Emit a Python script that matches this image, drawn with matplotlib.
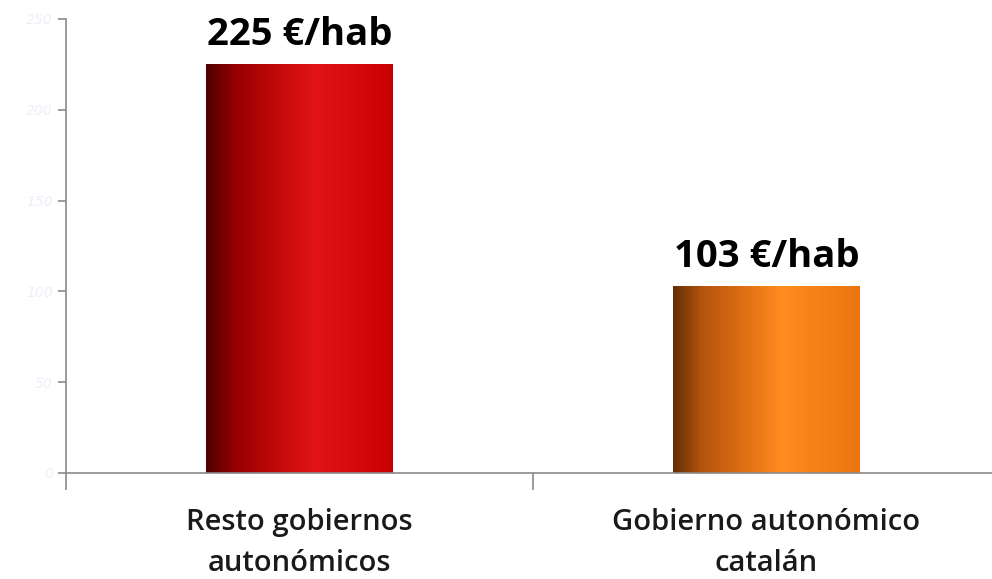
import numpy as np
import matplotlib.pyplot as plt
from matplotlib.colors import LinearSegmentedColormap

# datos
categorias = ['Resto gobiernos\nautonómicos', 'Gobierno autonómico\ncatalán']
valores = [225, 103]
etiquetas = ['225 €/hab', '103 €/hab']
yticks = [0, 50, 100, 150, 200, 250]

# degradados horizontales de cada barra
grad_rojo = LinearSegmentedColormap.from_list('rojo', [
    (0.0, (0.30, 0.0, 0.0)), (0.15, (0.58, 0.0, 0.0)),
    (0.35, (0.74, 0.03, 0.03)), (0.58, (0.88, 0.08, 0.08)),
    (1.0, (0.79, 0.0, 0.0))])
grad_naranja = LinearSegmentedColormap.from_list('naranja', [
    (0.0, (0.38, 0.18, 0.02)), (0.15, (0.70, 0.33, 0.05)),
    (0.35, (0.85, 0.42, 0.07)), (0.58, (1.0, 0.55, 0.12)),
    (1.0, (0.92, 0.46, 0.06))])
mapas = [grad_rojo, grad_naranja]

fig = plt.figure(figsize=(9.92, 5.79), dpi=100)
ax = fig.add_axes([66 / 992, 106 / 579, 934 / 992, 454 / 579])

x = np.arange(len(categorias))
barras = ax.bar(x, valores, width=0.4, color='none', edgecolor='none')
g = np.linspace(0, 1, 256).reshape(1, -1)
for b, cm in zip(barras, mapas):
    x0, y0 = b.get_x(), b.get_y()
    im = ax.imshow(g, cmap=cm, aspect='auto', interpolation='bilinear',
                   extent=[x0, x0 + b.get_width(), y0, y0 + b.get_height()], zorder=2)
    im.set_clip_path(b)

for xi, v, t in zip(x, valores, etiquetas):
    ax.text(xi, v + 10.5, t, ha='center', va='baseline', fontsize=27.5,
            fontweight='bold', family='Open Sans', color='black')

ax.set_xlim(-0.5, 1.5)
ax.set_ylim(0, 250)

# ejes
for s in ['top', 'right']:
    ax.spines[s].set_visible(False)
for s in ['left', 'bottom']:
    ax.spines[s].set_color('#8a8a8a')
    ax.spines[s].set_linewidth(1.2)

ax.set_yticks(yticks)
ax.set_yticklabels([str(t) for t in yticks], fontsize=10, style='italic',
                   color='#eeeefb')
ax.tick_params(axis='y', length=6, color='#8a8a8a', width=1.2)

ax.set_xticks([-0.5, 0.5, 1.5])
ax.set_xticklabels([])
ax.tick_params(axis='x', which='major', length=12, color='#8a8a8a', width=1.2)
ax.set_xticks(x, minor=True)
ax.set_xticklabels(categorias, minor=True, fontsize=21, fontweight='semibold',
                   family='Open Sans', linespacing=1.55, color='#1a1a1a')
ax.tick_params(axis='x', which='minor', length=0, pad=25)

plt.savefig('out.png', dpi=100)
